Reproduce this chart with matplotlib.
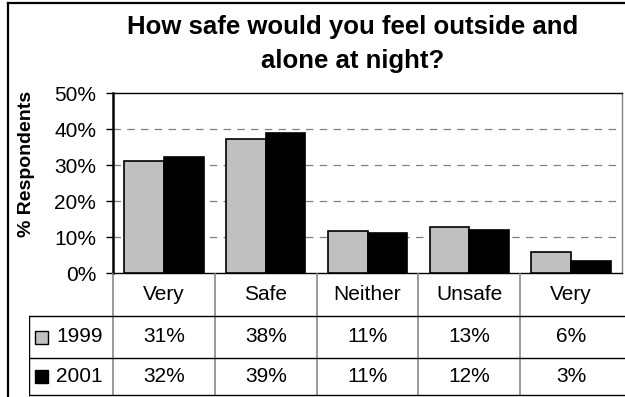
import matplotlib
matplotlib.use('Agg')
import matplotlib.pyplot as plt
from matplotlib.patches import Rectangle
from matplotlib.lines import Line2D

# ── Data ──────────────────────────────────────────────────────────────────────
categories = ['Very', 'Safe', 'Neither', 'Unsafe', 'Very']
years = ['1999', '2001']
vals_1999 = [31.2, 37.2, 11.7, 12.9, 6.0]
vals_2001 = [32.4, 39.0, 11.3, 11.9, 3.4]
labels_1999 = ['31%', '38%', '11%', '13%', '6%']
labels_2001 = ['32%', '39%', '11%', '12%', '3%']
yticks = [0, 10, 20, 30, 40, 50]

# ── Style ─────────────────────────────────────────────────────────────────────
GREY_BAR = '#c0c0c0'
GRID = '#808080'
FONT = 'Liberation Sans'
W, H = 625, 397
FS = 15

plt.rcParams['font.family'] = [FONT, 'DejaVu Sans']

fig = plt.figure(figsize=(W / 100, H / 100), dpi=100)


def fx(px):
    return px / W


def fy(py):
    return 1 - py / H


# outer chart border (cropped on the right / bottom)
fig.add_artist(Line2D([fx(8.3), 1], [fy(3.3), fy(3.3)], color='black', lw=1.6))
fig.add_artist(Line2D([fx(8.3), fx(8.3)], [fy(3.3), 0], color='black', lw=1.6))

fig.text(fx(353), fy(44), 'How safe would you feel outside and\nalone at night?',
         ha='center', va='center', fontsize=18.5, fontweight='bold', linespacing=1.5)

# ── Plot area ─────────────────────────────────────────────────────────────────
left, right, top, bottom = 113, 622, 93.3, 273.3
ax = fig.add_axes([fx(left), fy(bottom), (right - left) / W, (bottom - top) / H])
ax.set_xlim(0, len(categories))
ax.set_ylim(0, 50)

bw = 0.39
xs = [i + 0.5 for i in range(len(categories))]
ax.bar([x - bw / 2 for x in xs], vals_1999, bw, color=GREY_BAR,
       edgecolor='black', linewidth=1.2, zorder=3)
ax.bar([x + bw / 2 for x in xs], vals_2001, bw, color='black',
       edgecolor='black', linewidth=1.2, zorder=3)

for y in yticks[1:-1]:
    ax.axhline(y, color=GRID, lw=0.9, dashes=(6, 5), zorder=1)

ax.set_yticks(yticks)
ax.set_yticklabels([f'{t}%' for t in yticks], fontsize=FS)
ax.tick_params(axis='y', length=5, width=1, pad=7, color='black')
ax.set_xticks([])
ax.spines['left'].set_linewidth(1.8)
ax.spines['top'].set_linewidth(1.0)
ax.spines['bottom'].set_linewidth(1.0)
ax.spines['right'].set_color(GRID)
ax.spines['right'].set_linewidth(1.0)

fig.text(fx(27), fy(164), '% Respondents', rotation=90, ha='center', va='center',
         fontsize=14, fontweight='bold')

# ── Data table below the plot ─────────────────────────────────────────────────
col = (right - left) / len(categories)
t_left = 29
tab = fig.add_axes([fx(t_left), 0, (W - t_left) / W, fy(bottom)])
tab.set_xlim(-(left - t_left) / col, (W - left) / col)
tab.set_ylim(H, bottom)
tab.axis('off')

row_cat, row_a, row_b, row_end = bottom, 316, 358, 395
for i in range(len(categories)):
    tab.plot([i, i], [row_cat, row_end], color=GRID, lw=1.1)
x0 = -(left - t_left) / col
x1 = (W - left) / col
for yy in (row_a, row_b, row_end):
    tab.plot([x0, x1], [yy, yy], color='black', lw=1.0)
tab.plot([x0, x0], [row_a, row_end], color='black', lw=1.0)

for x, c in zip(xs, categories):
    tab.text(x, (row_cat + row_a) / 2, c, ha='center', va='center', fontsize=FS)
for x, a, b in zip(xs, labels_1999, labels_2001):
    tab.text(x, (row_a + row_b) / 2, a, ha='center', va='center', fontsize=FS)
    tab.text(x, (row_b + row_end) / 2, b, ha='center', va='center', fontsize=FS)

# legend keys
sq = 13 / col
kx = (41.5 - left) / col
for yr, colr, (ya, yb) in zip(years, [GREY_BAR, 'black'],
                              [(row_a, row_b), (row_b, row_end)]):
    yc = (ya + yb) / 2
    tab.add_patch(Rectangle((kx - sq / 2, yc - 6.5), sq, 13, facecolor=colr,
                            edgecolor='black', lw=1.0))
    tab.text((56 - left) / col, yc, yr, ha='left', va='center', fontsize=FS)

fig.savefig('out.png', dpi=100)
